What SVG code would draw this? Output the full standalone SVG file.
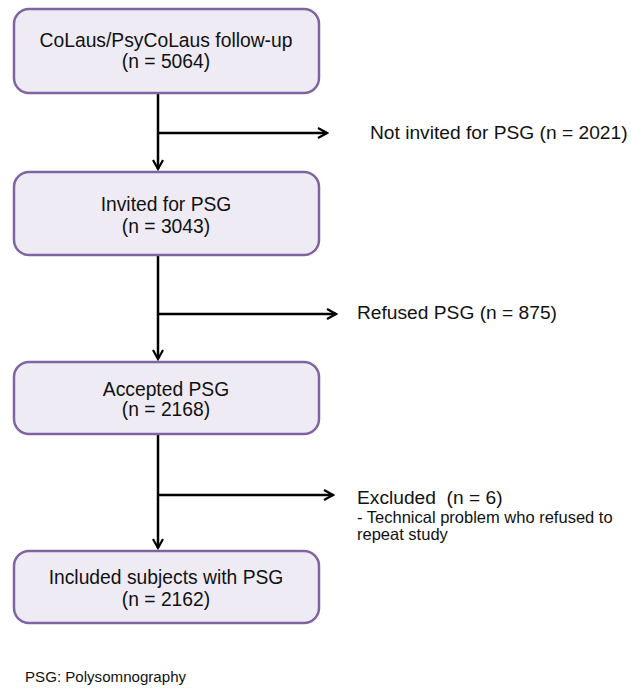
<svg xmlns="http://www.w3.org/2000/svg" width="631" height="688" viewBox="0 0 631 688">
<style>
.box{fill:#efebf5;stroke:#8064a2;stroke-width:2.5}
text{font-family:"Liberation Sans",Arial,sans-serif;fill:#111}
.bt{font-size:19.3px;text-anchor:middle}
.st{font-size:19.2px}
.sm{font-size:16.5px}
.ft{font-size:15.1px}
.ln{stroke:#000;stroke-width:2.5;fill:none}
</style>
<defs>
<marker id="ah" viewBox="0 0 12 12" refX="10" refY="6" markerWidth="12" markerHeight="12" markerUnits="userSpaceOnUse" orient="auto">
<path d="M1,1 L10,6 L1,11" fill="none" stroke="#000" stroke-width="2.2"/>
</marker>
</defs>
<g id="connectors">
<line class="ln" x1="158" y1="93" x2="158" y2="169" marker-end="url(#ah)"/>
<line class="ln" x1="158" y1="133" x2="327" y2="133" marker-end="url(#ah)"/>
<line class="ln" x1="158" y1="255" x2="158" y2="359" marker-end="url(#ah)"/>
<line class="ln" x1="158" y1="314" x2="336" y2="314" marker-end="url(#ah)"/>
<line class="ln" x1="158" y1="434" x2="158" y2="548" marker-end="url(#ah)"/>
<line class="ln" x1="158" y1="495" x2="333" y2="495" marker-end="url(#ah)"/>
</g>
<g id="n1">
<rect class="box" x="14" y="9" width="305" height="84" rx="15"/>
<text class="bt" x="166" y="47">CoLaus/PsyCoLaus follow-up</text>
<text class="bt" x="166" y="68">(n = 5064)</text>
</g>
<g id="n2">
<rect class="box" x="14" y="172" width="305" height="83" rx="15"/>
<text class="bt" x="166" y="211">Invited for PSG</text>
<text class="bt" x="166" y="233">(n = 3043)</text>
</g>
<g id="n3">
<rect class="box" x="14" y="362" width="305" height="72" rx="15"/>
<text class="bt" x="166" y="396">Accepted PSG</text>
<text class="bt" x="166" y="416">(n = 2168)</text>
</g>
<g id="n4">
<rect class="box" x="14" y="551" width="305" height="72" rx="15"/>
<text class="bt" x="166" y="584">Included subjects with PSG</text>
<text class="bt" x="166" y="606">(n = 2162)</text>
</g>
<g id="s1"><text class="st" x="370" y="139">Not invited for PSG (n = 2021)</text></g>
<g id="s2"><text class="st" x="357" y="319">Refused PSG (n = 875)</text></g>
<g id="s3">
<text class="st" x="357" y="504" xml:space="preserve">Excluded  (n = 6)</text>
<text class="sm" x="357" y="523">- Technical problem who refused to</text>
<text class="sm" x="357" y="540">repeat study</text>
</g>
<text class="ft" x="25" y="682">PSG: Polysomnography</text>
</svg>
